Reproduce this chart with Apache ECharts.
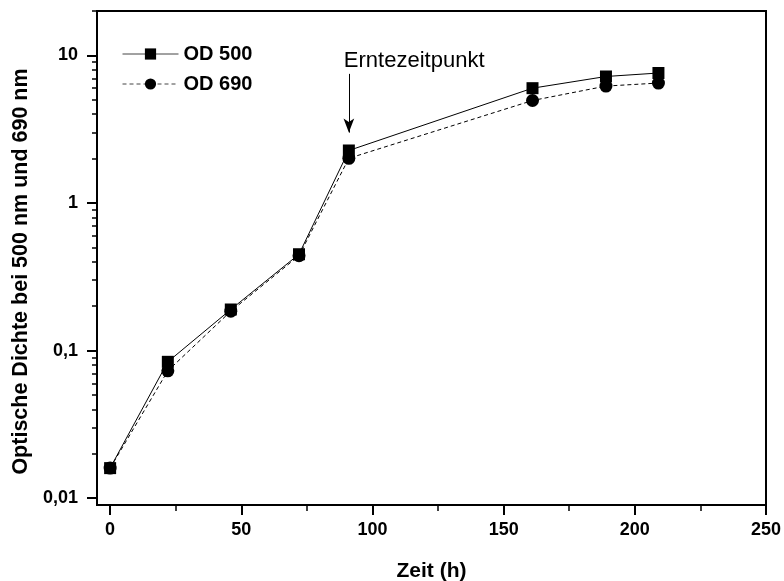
<!DOCTYPE html>
<html>
<head>
<meta charset="utf-8">
<script src="https://cdn.jsdelivr.net/npm/echarts@6/dist/echarts.min.js"></script>
<style>html,body{margin:0;padding:0;background:#fff;}#c{width:784px;height:581px;}</style>
</head>
<body>
<div id="c"></div>
<script>
// Data
var zeit = [0, 22, 46, 72, 91, 161, 189, 209];
var od500 = [0.016, 0.084, 0.19, 0.45, 2.27, 6.0, 7.2, 7.6];
var od690 = [0.016, 0.073, 0.185, 0.44, 2.01, 4.95, 6.2, 6.5];
var xTicks = [0, 50, 100, 150, 200, 250];
var xMinorTicks = [25, 75, 125, 175, 225];
var yTicks = [0.01, 0.1, 1, 10];
var yMinorTicks = [0.02,0.03,0.04,0.05,0.06,0.07,0.08,0.09,0.2,0.3,0.4,0.5,0.6,0.7,0.8,0.9,2,3,4,5,6,7,8,9,20];
var harvestX = 91;
var arrowFromTo = [7.5, 3.0];
var harvestLabelY = 9.2;
var harvestLabel = 'Erntezeitpunkt';

function pairs(xs, ys){ return xs.map(function(x,i){ return [x, ys[i]]; }); }
var font = '"Liberation Sans", Arial, sans-serif';

var chart = echarts.init(document.getElementById('c'), null, {renderer:'canvas'});
chart.setOption({
  animation: false,
  backgroundColor: '#fff',
  grid: {left: 97, right: 18, top: 11, bottom: 76, show: true, borderColor: '#000', borderWidth: 2, backgroundColor: 'transparent',
    containLabel: false, outerBoundsMode: 'none'},
  legend: {
    orient: 'vertical', left: 122, top: 44, padding: 0, itemWidth: 56, itemHeight: 14, itemGap: 10,
    lineStyle: {width: 1, color: '#444'},
    textStyle: {fontFamily: font, fontWeight: 'bold', fontSize: 20, color: '#000'},
    data: ['OD 500', 'OD 690']
  },
  xAxis: [{
    type: 'value', min: -5, max: 250, position: 'bottom',
    name: 'Zeit (h)', nameLocation: 'middle', nameGap: 56,
    nameTextStyle: {fontFamily: font, fontWeight: 'bold', fontSize: 21, color: '#000'},
    axisLine: {show: false, onZero: false},
    axisTick: {show: true, inside: false, length: 10, lineStyle: {color: '#000', width: 2}, customValues: xTicks},
    axisLabel: {show: true, margin: 16, fontFamily: font, fontWeight: 'bold', fontSize: 18, color: '#000', customValues: xTicks},
    splitLine: {show: false}
  }, {
    type: 'value', min: -5, max: 250, position: 'bottom',
    axisLine: {show: false, onZero: false},
    axisTick: {show: true, inside: false, length: 6, lineStyle: {color: '#000', width: 1.5}, customValues: xMinorTicks},
    axisLabel: {show: false},
    splitLine: {show: false}
  }],
  yAxis: [{
    type: 'log', logBase: 10, min: 0.009, max: 20, position: 'left',
    name: 'Optische Dichte bei 500 nm und 690 nm', nameLocation: 'middle', nameGap: 62, nameRotate: 90,
    nameTextStyle: {fontFamily: font, fontWeight: 'bold', fontSize: 21.5, color: '#000', padding: [0, 27, 0, 0]},
    axisLine: {show: false, onZero: false},
    axisTick: {show: true, inside: false, length: 10, lineStyle: {color: '#000', width: 2}, customValues: yTicks},
    axisLabel: {show: true, margin: 19, fontFamily: font, fontWeight: 'bold', fontSize: 18, color: '#000', customValues: yTicks,
      formatter: function(v){ return String(v).replace('.', ','); }},
    splitLine: {show: false}
  }, {
    type: 'log', logBase: 10, min: 0.009, max: 20, position: 'left',
    axisLine: {show: false, onZero: false},
    axisTick: {show: true, inside: false, length: 5, lineStyle: {color: '#000', width: 1.5}, customValues: yMinorTicks},
    axisLabel: {show: false},
    splitLine: {show: false}
  }],
  series: [{
    name: 'OD 690', type: 'line', xAxisIndex: 0, yAxisIndex: 0,
    data: pairs(zeit, od690),
    symbol: 'circle', symbolSize: 13,
    itemStyle: {color: '#000'},
    lineStyle: {color: '#000', width: 1, type: [4, 3]},
    z: 2
  }, {
    name: 'OD 500', type: 'line', xAxisIndex: 0, yAxisIndex: 0,
    data: pairs(zeit, od500),
    symbol: 'rect', symbolSize: 12,
    itemStyle: {color: '#000'},
    lineStyle: {color: '#000', width: 1, type: 'solid'},
    z: 3,
    markLine: {
      silent: true, animation: false,
      symbol: ['none', 'arrow'], symbolSize: [8, 14],
      lineStyle: {color: '#000', width: 1, type: 'solid'},
      label: {show: false},
      data: [[{coord: [harvestX, arrowFromTo[0]]}, {coord: [harvestX, arrowFromTo[1]]}]]
    },
    markPoint: {
      silent: true, animation: false,
      symbol: 'circle', symbolSize: 0,
      data: [{coord: [harvestX, harvestLabelY], value: harvestLabel}],
      label: {show: true, position: 'right', distance: 0, offset: [-5, 0], formatter: harvestLabel,
        fontFamily: font, fontSize: 22, color: '#000'}
    }
  }]
});
</script>
</body>
</html>
